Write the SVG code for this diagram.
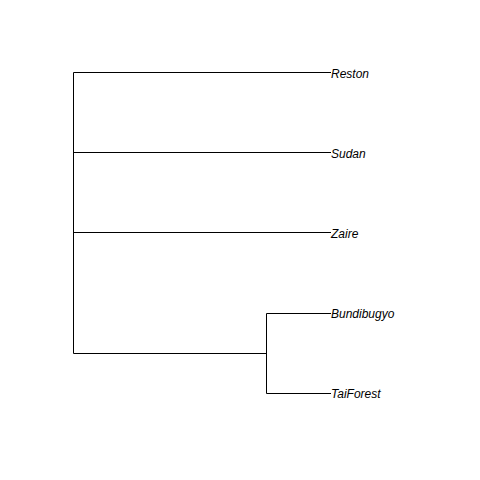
<svg xmlns="http://www.w3.org/2000/svg" width="480" height="480" viewBox="0 0 480 480">
<style>
.e{stroke:#000;stroke-width:1;fill:none;stroke-linecap:butt}
.t{font-family:"Liberation Sans",Arial,sans-serif;font-size:12px;font-style:italic;fill:#000}
</style>
<rect width="480" height="480" fill="#fff"/>
<g id="connectors">
<path class="e" d="M73.5,72.5V353.5"/>
<path class="e" d="M73.5,72.5H331"/>
<path class="e" d="M73.5,152.5H331"/>
<path class="e" d="M73.5,232.5H331"/>
<path class="e" d="M73.5,353.5H267"/>
<path class="e" d="M266.5,313.5V393.5"/>
<path class="e" d="M266.5,313.5H331"/>
<path class="e" d="M266.5,393.5H331"/>
</g>
<g id="Reston"><text class="t" x="331" y="77.5">Reston</text></g>
<g id="Sudan"><text class="t" x="331" y="157.5">Sudan</text></g>
<g id="Zaire"><text class="t" x="331" y="238">Zaire</text></g>
<g id="Bundibugyo"><text class="t" x="331" y="317.5">Bundibugyo</text></g>
<g id="TaiForest"><text class="t" x="331" y="398">TaiForest</text></g>
</svg>
